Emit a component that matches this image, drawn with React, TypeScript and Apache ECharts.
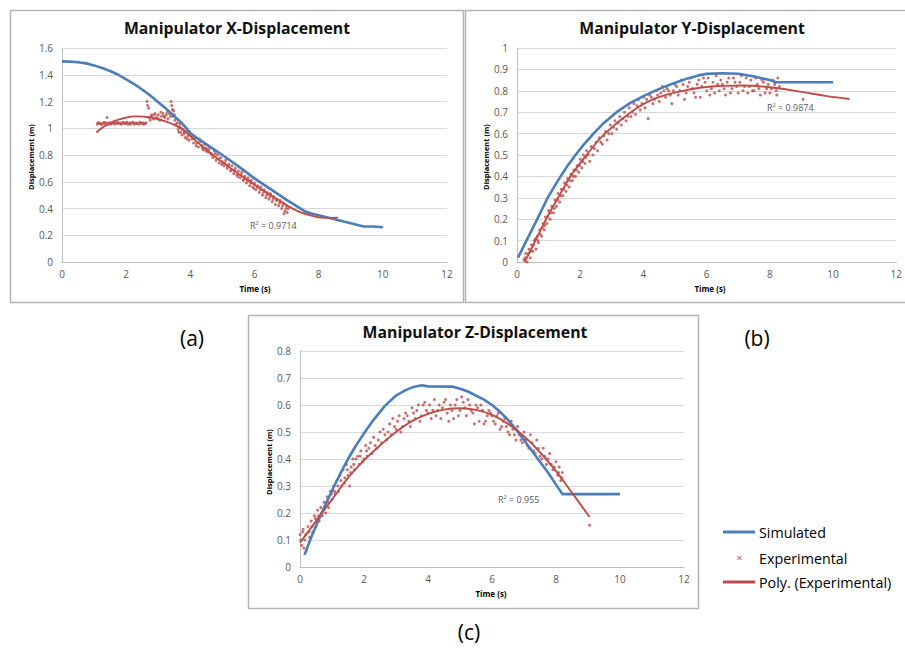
import React, { useEffect, useRef } from "react";
import * as echarts from "echarts";

// ---------- Panel (a): X-displacement ----------
const simX: number[][] = [
  [0, 1.5], [0.25, 1.498], [0.5, 1.493], [0.75, 1.485], [1.0, 1.47], [1.25, 1.45], [1.5, 1.428], [1.75, 1.4],
  [2.0, 1.365], [2.25, 1.33], [2.5, 1.29], [2.75, 1.245], [3.0, 1.195], [3.25, 1.145], [3.5, 1.09],
  [3.75, 1.035], [4.0, 0.965], [4.25, 0.92], [4.5, 0.88], [4.75, 0.84], [5.0, 0.8], [5.5, 0.715],
  [6.0, 0.625], [6.5, 0.545], [7.0, 0.465], [7.3, 0.42], [7.6, 0.375], [7.8, 0.36], [8.0, 0.35],
  [8.5, 0.32], [9.0, 0.29], [9.4, 0.265], [9.7, 0.265], [10.0, 0.26],
];
const expX: number[][] = [
  [1.1, 1.03], [1.15, 1.04], [1.2, 1.035], [1.25, 1.03], [1.3, 1.04], [1.35, 1.035], [1.4, 1.08], [1.45, 1.03],
  [1.5, 1.04], [1.55, 1.035], [1.6, 1.045], [1.65, 1.03], [1.7, 1.04], [1.75, 1.035], [1.8, 1.04], [1.85, 1.03],
  [1.9, 1.045], [1.95, 1.035], [2.0, 1.04], [2.05, 1.03], [2.1, 1.04], [2.15, 1.035], [2.2, 1.045], [2.25, 1.03],
  [2.3, 1.04], [2.35, 1.035], [2.4, 1.03], [2.45, 1.04], [2.5, 1.035], [2.55, 1.03], [2.62, 1.04], [2.65, 1.2],
  [2.67, 1.17], [2.7, 1.15], [2.72, 1.08], [2.75, 1.06], [2.8, 1.1], [2.85, 1.07], [2.9, 1.11], [2.95, 1.08],
  [3.0, 1.1], [3.05, 1.06], [3.1, 1.09], [3.15, 1.11], [3.2, 1.08], [3.25, 1.1], [3.3, 1.07], [3.35, 1.11],
  [3.4, 1.2], [3.42, 1.17], [3.44, 1.14], [3.45, 1.09], [3.5, 1.1],
  [3.6, 1.04], [3.62, 0.99], [3.66, 1.01], [3.68, 1.03], [3.7, 0.97], [3.74, 0.95], [3.78, 0.99], [3.8, 0.96],
  [3.84, 0.93], [3.88, 0.98], [3.92, 0.94], [3.96, 0.91], [4.0, 0.95], [4.05, 0.92], [4.1, 0.89], [4.15, 0.93],
  [4.2, 0.89], [4.25, 0.86], [4.3, 0.9], [4.35, 0.87], [4.4, 0.84], [4.45, 0.88], [4.5, 0.85], [4.55, 0.82],
  [4.6, 0.86], [4.65, 0.81], [4.7, 0.78], [4.75, 0.83], [4.8, 0.76], [4.85, 0.8], [4.9, 0.74], [4.95, 0.78],
  [5.0, 0.75], [5.05, 0.72], [5.1, 0.76], [5.15, 0.7], [5.2, 0.73], [5.25, 0.68], [5.3, 0.72], [5.35, 0.66],
  [5.4, 0.7], [5.45, 0.65], [5.5, 0.68], [5.55, 0.63], [5.6, 0.67], [5.65, 0.61], [5.7, 0.64], [5.75, 0.59],
  [5.8, 0.63], [5.85, 0.57], [5.9, 0.61], [5.95, 0.56], [6.0, 0.59], [6.05, 0.54], [6.1, 0.57], [6.15, 0.52],
  [6.2, 0.56], [6.25, 0.5], [6.3, 0.54], [6.35, 0.48], [6.4, 0.52], [6.45, 0.47], [6.5, 0.51], [6.55, 0.45],
  [6.6, 0.49], [6.65, 0.43], [6.7, 0.47], [6.75, 0.42], [6.8, 0.46], [6.85, 0.4], [6.9, 0.44], [6.95, 0.38],
  [7.0, 0.42], [7.02, 0.37], [7.05, 0.4],
  [1.12, 1.04], [1.22, 1.03], [1.32, 1.045], [1.42, 1.04], [1.52, 1.03], [1.62, 1.04], [1.72, 1.045], [1.82, 1.035],
  [1.92, 1.04], [2.02, 1.045], [2.12, 1.03], [2.22, 1.04], [2.32, 1.035], [2.42, 1.045], [2.52, 1.04], [2.58, 1.035],
  [2.78, 1.09], [2.88, 1.1], [2.98, 1.07], [3.08, 1.12], [3.18, 1.09], [3.28, 1.12], [3.38, 1.09], [3.48, 1.13],
  [3.52, 1.06], [3.55, 1.03], [3.64, 0.97], [3.72, 1.0], [3.82, 0.97], [3.9, 0.92], [3.98, 0.97], [4.08, 0.94],
  [4.18, 0.87], [4.28, 0.92], [4.38, 0.85], [4.48, 0.83], [4.58, 0.84], [4.68, 0.8], [4.78, 0.81], [4.88, 0.77],
  [4.98, 0.73], [5.08, 0.74], [5.18, 0.72], [5.28, 0.69], [5.38, 0.68], [5.48, 0.64], [5.58, 0.65], [5.68, 0.62],
  [5.78, 0.61], [5.88, 0.59], [5.98, 0.55], [6.08, 0.56], [6.18, 0.54], [6.28, 0.52], [6.38, 0.5], [6.48, 0.49],
  [6.58, 0.47], [6.68, 0.46], [6.78, 0.44], [6.88, 0.42], [6.98, 0.4], [6.92, 0.36],
];
const polyX: number[][] = [
  [1.07, 0.969], [1.5, 1.04], [2.0, 1.08], [2.32, 1.089], [2.75, 1.08], [3.25, 1.05], [3.7, 1.0], [4.2, 0.9],
  [4.7, 0.8], [5.2, 0.71], [5.8, 0.61], [6.5, 0.5], [7.0, 0.425], [7.4, 0.375], [7.8, 0.345], [8.2, 0.33], [8.6, 0.332],
];

// ---------- Panel (b): Y-displacement ----------
const simY: number[][] = [
  [0.03, 0.02], [0.3, 0.1], [0.64, 0.2], [0.97, 0.3], [1.17, 0.35], [1.38, 0.4], [1.6, 0.45], [1.85, 0.5],
  [2.12, 0.55], [2.42, 0.6], [2.75, 0.65], [3.15, 0.7], [3.6, 0.745], [4.0, 0.775], [4.29, 0.795], [4.6, 0.815],
  [5.0, 0.838], [5.4, 0.858], [5.74, 0.872], [6.0, 0.879], [6.5, 0.882], [7.0, 0.88], [7.5, 0.867], [8.0, 0.85],
  [8.2, 0.84], [10.0, 0.84],
];
const expY: number[][] = [
  [0.22, 0.01], [0.28, 0.04], [0.32, 0.0], [0.38, 0.06], [0.42, 0.02], [0.46, 0.08], [0.5, 0.05], [0.55, 0.1],
  [0.6, 0.06], [0.64, 0.12], [0.68, 0.09], [0.72, 0.15], [0.78, 0.12], [0.82, 0.18], [0.86, 0.15], [0.9, 0.21],
  [0.95, 0.18], [1.0, 0.24], [1.05, 0.2], [1.1, 0.26], [1.15, 0.23], [1.2, 0.29], [1.25, 0.26], [1.3, 0.32],
  [1.35, 0.28], [1.4, 0.34], [1.45, 0.31], [1.5, 0.37], [1.55, 0.33], [1.6, 0.39], [1.65, 0.35], [1.7, 0.41],
  [1.75, 0.38], [1.8, 0.43], [1.85, 0.4], [1.9, 0.45], [1.95, 0.42], [2.0, 0.48], [2.05, 0.44], [2.1, 0.5],
  [2.15, 0.46], [2.2, 0.52], [2.3, 0.47], [2.35, 0.54], [2.4, 0.5], [2.5, 0.56], [2.55, 0.52], [2.6, 0.58],
  [2.7, 0.55], [2.8, 0.61], [2.85, 0.57], [2.95, 0.64], [3.0, 0.6], [3.1, 0.66], [3.15, 0.62], [3.25, 0.68],
  [3.3, 0.64], [3.4, 0.7], [3.45, 0.66], [3.55, 0.72], [3.6, 0.68], [3.7, 0.74], [3.75, 0.69], [3.85, 0.76],
  [3.9, 0.71], [4.0, 0.77], [4.05, 0.72], [4.15, 0.67], [4.2, 0.78], [4.3, 0.74], [4.4, 0.8], [4.5, 0.75],
  [4.6, 0.82], [4.7, 0.77], [4.8, 0.8], [4.9, 0.74], [5.0, 0.83], [5.1, 0.78], [5.2, 0.85], [5.3, 0.76],
  [5.4, 0.82], [5.5, 0.86], [5.6, 0.79], [5.7, 0.83], [5.8, 0.77], [5.9, 0.86], [6.0, 0.8], [6.1, 0.78],
  [6.2, 0.84], [6.3, 0.87], [6.4, 0.8], [6.5, 0.83], [6.6, 0.78], [6.7, 0.86], [6.8, 0.81], [6.9, 0.84],
  [7.0, 0.79], [7.1, 0.87], [7.2, 0.82], [7.3, 0.79], [7.4, 0.85], [7.5, 0.8], [7.6, 0.83], [7.7, 0.78],
  [7.8, 0.84], [7.9, 0.81], [8.0, 0.79], [8.1, 0.85], [8.2, 0.8], [8.25, 0.86], [8.3, 0.82], [9.05, 0.76],
  [0.26, 0.02], [0.36, 0.04], [0.44, 0.05], [0.52, 0.08], [0.58, 0.11], [0.66, 0.1], [0.74, 0.13], [0.8, 0.16],
  [0.88, 0.17], [0.97, 0.21], [1.08, 0.23], [1.18, 0.25], [1.28, 0.29], [1.38, 0.31], [1.48, 0.34], [1.58, 0.36],
  [1.68, 0.38], [1.78, 0.4], [1.88, 0.43], [1.98, 0.45], [2.08, 0.47], [2.18, 0.49], [2.25, 0.5], [2.45, 0.53],
  [2.65, 0.56], [2.75, 0.59], [2.9, 0.6], [3.05, 0.63], [3.2, 0.65], [3.35, 0.67], [3.5, 0.68], [3.65, 0.7],
  [3.8, 0.73], [3.95, 0.74], [4.1, 0.76], [4.25, 0.77], [4.35, 0.76], [4.45, 0.78], [4.55, 0.79], [4.65, 0.8],
  [4.75, 0.81], [4.85, 0.78], [4.95, 0.8], [5.05, 0.82], [5.15, 0.8], [5.25, 0.83], [5.35, 0.79], [5.45, 0.84],
  [5.55, 0.81], [5.65, 0.77], [5.75, 0.85], [5.85, 0.82], [5.95, 0.84], [6.05, 0.86], [6.15, 0.81], [6.25, 0.79],
  [6.35, 0.83], [6.45, 0.85], [6.55, 0.81], [6.65, 0.84], [6.75, 0.79], [6.85, 0.86], [6.95, 0.82], [7.05, 0.84],
  [7.15, 0.8], [7.25, 0.86], [7.35, 0.82], [7.45, 0.8], [7.55, 0.86], [7.65, 0.81], [7.75, 0.85], [7.85, 0.79],
  [7.95, 0.83], [8.05, 0.81], [8.15, 0.83], [8.22, 0.78],
];
const polyY: number[][] = [
  [0.24, 0.0], [0.5, 0.075], [0.92, 0.2], [1.3, 0.3], [1.69, 0.4], [2.2, 0.5], [2.78, 0.6], [3.6, 0.7],
  [4.3, 0.76], [5.1, 0.795], [6.0, 0.818], [7.15, 0.825], [8.2, 0.813], [9.0, 0.795], [9.8, 0.775], [10.52, 0.762],
];

// ---------- Panel (c): Z-displacement ----------
const simZ: number[][] = [
  [0.14, 0.045], [0.35, 0.11], [0.6, 0.18], [0.85, 0.245], [1.07, 0.3], [1.3, 0.355], [1.5, 0.4], [1.75, 0.45],
  [2.0, 0.495], [2.3, 0.545], [2.64, 0.595], [3.0, 0.635], [3.3, 0.655], [3.55, 0.667], [3.8, 0.673], [4.0, 0.669],
  [4.78, 0.668], [5.0, 0.66], [5.25, 0.65], [5.5, 0.635], [5.75, 0.62], [6.0, 0.6], [6.25, 0.575], [6.5, 0.545],
  [6.75, 0.51], [7.0, 0.47], [7.25, 0.43], [7.5, 0.39], [7.75, 0.35], [8.0, 0.305], [8.2, 0.27], [10.0, 0.27],
];
const expZ: number[][] = [
  [0.0, 0.12], [0.05, 0.08], [0.1, 0.14], [0.15, 0.1], [0.2, 0.06], [0.25, 0.15], [0.3, 0.11], [0.35, 0.17],
  [0.4, 0.13], [0.45, 0.19], [0.5, 0.15], [0.55, 0.21], [0.6, 0.17], [0.65, 0.22], [0.7, 0.19], [0.75, 0.24],
  [0.8, 0.2], [0.85, 0.26], [0.9, 0.22], [0.95, 0.28], [1.0, 0.25], [1.05, 0.3], [1.1, 0.27], [1.15, 0.32],
  [1.2, 0.28], [1.25, 0.34], [1.3, 0.3], [1.35, 0.36], [1.4, 0.33], [1.45, 0.38], [1.5, 0.34], [1.55, 0.3],
  [1.6, 0.37], [1.65, 0.4], [1.7, 0.36], [1.8, 0.41], [1.85, 0.38], [1.9, 0.43], [2.0, 0.4], [2.05, 0.45],
  [2.1, 0.41], [2.2, 0.46], [2.25, 0.42], [2.3, 0.48], [2.4, 0.44], [2.5, 0.5], [2.55, 0.46], [2.6, 0.51],
  [2.7, 0.47], [2.8, 0.53], [2.85, 0.49], [2.9, 0.55], [3.0, 0.51], [3.1, 0.56], [3.2, 0.52], [3.3, 0.57],
  [3.4, 0.54], [3.5, 0.59], [3.6, 0.55], [3.7, 0.6], [3.8, 0.56], [3.9, 0.61], [4.0, 0.57], [4.1, 0.55],
  [4.2, 0.62], [4.3, 0.58], [4.4, 0.55], [4.5, 0.61], [4.6, 0.57], [4.7, 0.6], [4.8, 0.55], [4.9, 0.62],
  [5.0, 0.58], [5.1, 0.61], [5.2, 0.56], [5.3, 0.6], [5.4, 0.57], [5.5, 0.6], [5.6, 0.54], [5.7, 0.58],
  [5.8, 0.54], [5.9, 0.58], [6.0, 0.56], [6.1, 0.53], [6.2, 0.57], [6.3, 0.52], [6.4, 0.55], [6.5, 0.5],
  [6.6, 0.54], [6.7, 0.49], [6.8, 0.52], [6.9, 0.47], [7.0, 0.5], [7.1, 0.45], [7.2, 0.49], [7.3, 0.43],
  [7.4, 0.47], [7.5, 0.41], [7.6, 0.44], [7.7, 0.38], [7.8, 0.42], [7.9, 0.36], [8.0, 0.39], [8.05, 0.34],
  [8.1, 0.37], [8.15, 0.32], [8.2, 0.35], [9.05, 0.155],
  [0.02, 0.1], [0.08, 0.13], [0.12, 0.07], [0.18, 0.12], [0.28, 0.13], [0.38, 0.15], [0.48, 0.18], [0.58, 0.19],
  [0.68, 0.2], [0.78, 0.22], [0.88, 0.24], [0.98, 0.27], [1.08, 0.28], [1.18, 0.3], [1.28, 0.32], [1.38, 0.31],
  [1.48, 0.36], [1.58, 0.35], [1.68, 0.38], [1.75, 0.4], [1.88, 0.41], [1.95, 0.39], [2.08, 0.43], [2.15, 0.44],
  [2.35, 0.45], [2.45, 0.47], [2.65, 0.49], [2.75, 0.5], [2.95, 0.52], [3.05, 0.54], [3.15, 0.5], [3.25, 0.55],
  [3.35, 0.56], [3.45, 0.52], [3.55, 0.57], [3.65, 0.58], [3.75, 0.54], [3.85, 0.6], [3.95, 0.58], [4.05, 0.6],
  [4.15, 0.58], [4.25, 0.56], [4.35, 0.6], [4.45, 0.59], [4.55, 0.62], [4.65, 0.54], [4.75, 0.58], [4.85, 0.6],
  [4.95, 0.56], [5.05, 0.63], [5.15, 0.59], [5.25, 0.62], [5.35, 0.58], [5.45, 0.53], [5.55, 0.59], [5.65, 0.6],
  [5.75, 0.53], [5.85, 0.56], [5.95, 0.57], [6.05, 0.54], [6.15, 0.56], [6.25, 0.51], [6.35, 0.54], [6.45, 0.52],
  [6.55, 0.49], [6.65, 0.51], [6.75, 0.47], [6.85, 0.49], [6.95, 0.46], [7.05, 0.47], [7.15, 0.44], [7.25, 0.46],
  [7.35, 0.42], [7.45, 0.44], [7.55, 0.4], [7.65, 0.41], [7.75, 0.4], [7.85, 0.38], [7.95, 0.37], [8.08, 0.35],
  [8.18, 0.33],
];
const polyZ: number[][] = [
  [0.0, 0.09], [0.5, 0.17], [1.0, 0.25], [1.5, 0.33], [2.0, 0.395], [2.5, 0.45], [3.0, 0.5], [3.5, 0.54],
  [4.0, 0.567], [4.5, 0.583], [5.0, 0.588], [5.5, 0.582], [6.0, 0.563], [6.5, 0.53], [7.0, 0.484], [7.5, 0.425],
  [8.0, 0.355], [8.5, 0.275], [9.05, 0.185],
];

const titles = ["Manipulator X-Displacement", "Manipulator Y-Displacement", "Manipulator Z-Displacement"];
const r2Labels = ["R\u00B2 = 0.9714", "R\u00B2 = 0.9874", "R\u00B2 = 0.955"];
const yMax = [1.6, 1, 0.8];
const yInterval = [0.2, 0.1, 0.1];
const xMax = 12;
const xInterval = 2;
const legendNames = ["Simulated", "Experimental", "Poly. (Experimental)"];
const panelLabels = ["(a)", "(b)", "(c)"];

const BLUE = "#4a7ebb";
const RED = "#be4b48";
const FONT = "'Open Sans', 'Noto Sans', sans-serif";

const grids = [
  { left: 62, top: 48, width: 385, height: 214 },
  { left: 517, top: 48, width: 386, height: 214 },
  { left: 300, top: 351, width: 384, height: 216 },
];

const panelBoxes = [
  { x: 10.5, y: 10.5, w: 453, h: 292 },
  { x: 465.5, y: 10.5, w: 450, h: 292 },
  { x: 248.5, y: 315.5, w: 450, h: 293 },
];

const titlePos = [
  [237, 28],
  [692, 28],
  [475, 332],
];
const timePos = [
  [255, 288],
  [710, 288],
  [491, 593],
];
const dispPos = [
  [31, 157],
  [486, 157],
  [269, 462],
];
const r2Pos = [
  [250, 225],
  [767, 107],
  [498, 499],
];
const panelLabelPos = [
  [192, 338],
  [757, 338],
  [469, 632],
];

export default function App() {
  const ref = useRef<HTMLDivElement>(null);
  useEffect(() => {
    if (!ref.current) return;
    const chart = echarts.init(ref.current, null, { renderer: "svg" });
    const sims = [simX, simY, simZ];
    const exps = [expX, expY, expZ];
    const polys = [polyX, polyY, polyZ];

    const xAxis = grids.map((_, i) => ({
      type: "value",
      gridIndex: i,
      min: 0,
      max: xMax,
      interval: xInterval,
      splitLine: { show: false },
      axisLine: { show: true, lineStyle: { color: "#bfbfbf", width: 1 } },
      axisTick: { show: false },
      axisLabel: { fontSize: 10, color: "#595959", fontFamily: FONT, margin: 7 },
    }));
    const yAxis = grids.map((_, i) => ({
      type: "value",
      gridIndex: i,
      min: 0,
      max: yMax[i],
      interval: yInterval[i],
      splitLine: { show: true, lineStyle: { color: "#d9d9d9", width: 1 } },
      axisLine: { show: true, lineStyle: { color: "#bfbfbf", width: 1 } },
      axisTick: { show: false },
      axisLabel: { fontSize: 10, color: "#595959", fontFamily: FONT, margin: 9 },
    }));

    const series: any[] = [];
    for (let i = 0; i < 3; i++) {
      series.push({
        type: "line",
        name: legendNames[0],
        xAxisIndex: i,
        yAxisIndex: i,
        data: sims[i],
        showSymbol: false,
        smooth: false,
        lineStyle: { color: BLUE, width: 2.6, join: "round" },
        itemStyle: { color: BLUE },
      });
      series.push({
        type: "scatter",
        name: legendNames[1],
        xAxisIndex: i,
        yAxisIndex: i,
        data: exps[i],
        symbol: "circle",
        symbolSize: 3,
        itemStyle: { color: RED, opacity: 0.8 },
      });
      series.push({
        type: "line",
        name: legendNames[2],
        xAxisIndex: i,
        yAxisIndex: i,
        data: polys[i],
        smooth: 0.4,
        showSymbol: false,
        lineStyle: { color: RED, width: 1.9 },
        itemStyle: { color: RED },
      });
    }

    const graphic: any[] = [];
    for (let i = 0; i < 3; i++) {
      const b = panelBoxes[i];
      graphic.push({
        type: "rect",
        shape: { x: b.x, y: b.y, width: b.w, height: b.h },
        style: { fill: "none", stroke: "#b4b4b4", lineWidth: 1.5 },
        z: -1,
        silent: true,
      });
      graphic.push({
        type: "text",
        x: titlePos[i][0],
        y: titlePos[i][1],
        style: {
          text: titles[i],
          font: `bold 15.8px ${FONT}`,
          fill: "#111",
          align: "center",
          verticalAlign: "middle",
        },
      });
      graphic.push({
        type: "text",
        x: timePos[i][0],
        y: timePos[i][1],
        style: {
          text: "Time (s)",
          font: `bold 8px ${FONT}`,
          fill: "#000",
          align: "center",
          verticalAlign: "middle",
        },
      });
      graphic.push({
        type: "text",
        x: dispPos[i][0],
        y: dispPos[i][1],
        rotation: Math.PI / 2,
        style: {
          text: "Displacement (m)",
          font: `bold 7.5px ${FONT}`,
          fill: "#000",
          align: "center",
          verticalAlign: "middle",
        },
      });
      graphic.push({
        type: "text",
        x: r2Pos[i][0],
        y: r2Pos[i][1],
        style: {
          text: r2Labels[i],
          font: `9px ${FONT}`,
          fill: "#595959",
          align: "left",
          verticalAlign: "middle",
        },
      });
      graphic.push({
        type: "text",
        x: panelLabelPos[i][0],
        y: panelLabelPos[i][1],
        style: {
          text: panelLabels[i],
          font: `21px ${FONT}`,
          fill: "#000",
          align: "center",
          verticalAlign: "middle",
        },
      });
    }
    // Legend
    graphic.push({
      type: "line",
      shape: { x1: 723, y1: 532, x2: 755, y2: 532 },
      style: { stroke: BLUE, lineWidth: 3 },
    });
    graphic.push({
      type: "text",
      x: 759,
      y: 532,
      style: { text: legendNames[0], font: `14.3px ${FONT}`, fill: "#000", verticalAlign: "middle" },
    });
    graphic.push({
      type: "line",
      shape: { x1: 737.5, y1: 556, x2: 741.5, y2: 560 },
      style: { stroke: RED, lineWidth: 1 },
    });
    graphic.push({
      type: "line",
      shape: { x1: 741.5, y1: 556, x2: 737.5, y2: 560 },
      style: { stroke: RED, lineWidth: 1 },
    });
    graphic.push({
      type: "text",
      x: 759,
      y: 558,
      style: { text: legendNames[1], font: `14.3px ${FONT}`, fill: "#000", verticalAlign: "middle" },
    });
    graphic.push({
      type: "line",
      shape: { x1: 723, y1: 582, x2: 755, y2: 582 },
      style: { stroke: RED, lineWidth: 3 },
    });
    graphic.push({
      type: "text",
      x: 759,
      y: 582,
      style: { text: legendNames[2], font: `14.3px ${FONT}`, fill: "#000", verticalAlign: "middle" },
    });

    chart.setOption({
      animation: false,
      backgroundColor: "#ffffff",
      grid: grids.map((g) => ({ ...g, containLabel: false })),
      xAxis,
      yAxis,
      series,
      graphic,
    });
    return () => chart.dispose();
  }, []);
  return (
    <div
      ref={ref}
      style={{ position: "absolute", left: 0, top: 0, width: 905, height: 648, background: "#fff" }}
    />
  );
}
